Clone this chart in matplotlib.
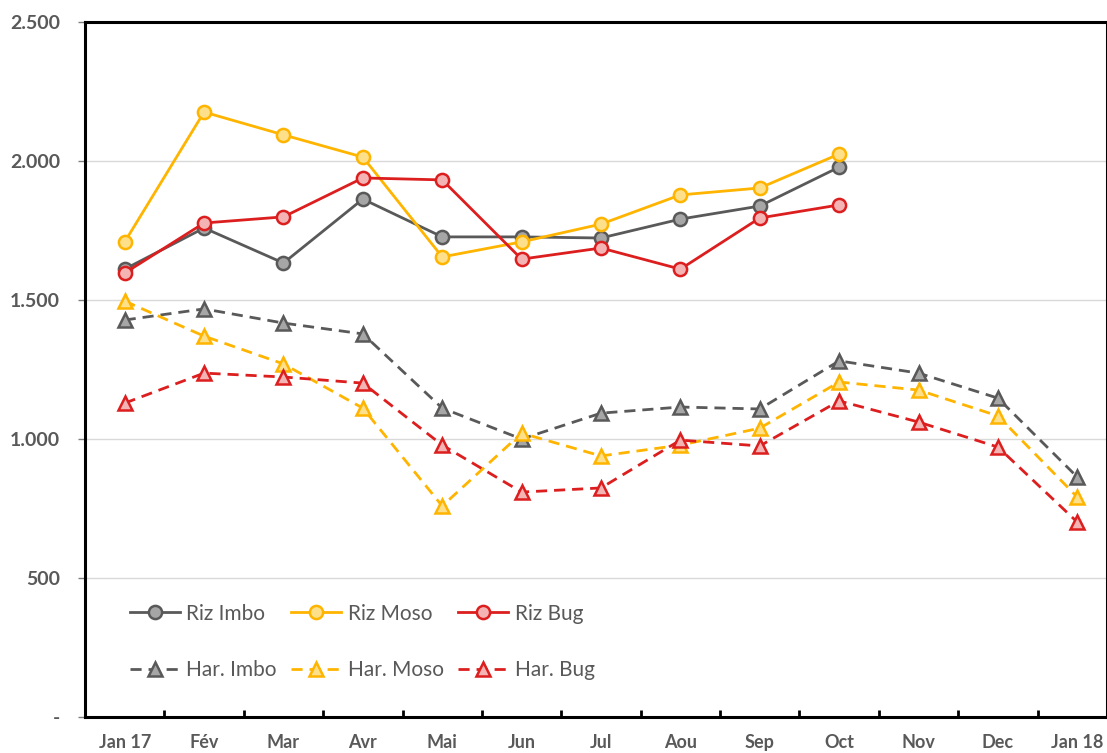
import matplotlib
matplotlib.use("Agg")
import matplotlib.pyplot as plt
from matplotlib.ticker import FuncFormatter, FixedLocator

months = ["Jan 17", "Fév", "Mar", "Avr", "Mai", "Jun", "Jul", "Aou",
          "Sep", "Oct", "Nov", "Dec", "Jan 18"]

riz_imbo = [1611, 1759, 1633, 1863, 1727, 1727, 1723, 1791, 1838, 1978]
riz_moso = [1709, 2176, 2094, 2014, 1655, 1709, 1773, 1878, 1903, 2025]
riz_bug = [1597, 1777, 1799, 1939, 1932, 1647, 1687, 1611, 1795, 1842]

har_imbo = [1428, 1468, 1417, 1378, 1111, 1000, 1093, 1115, 1108, 1281, 1237, 1147, 863]
har_moso = [1496, 1370, 1270, 1111, 759, 1021, 939, 978, 1039, 1205, 1176, 1083, 791]
har_bug = [1129, 1237, 1223, 1201, 978, 809, 824, 996, 975, 1137, 1061, 971, 701]

plt.rcParams['font.family'] = ['Lato', 'DejaVu Sans']

fig = plt.figure(figsize=(11.07, 7.53), dpi=100)
ax = fig.add_axes([85 / 1107, 36 / 753, 1 - 85 / 1107, 695 / 753])

gray, gray_f = "#595959", "#A6A6A6"
yellow, yellow_f = "#FFB400", "#FFE08A"
red, red_f = "#DC1E1E", "#F4B4B4"

x_riz = range(len(riz_imbo))
x_har = range(len(har_imbo))

common = dict(linewidth=2.0, markersize=9.5, markeredgewidth=1.8)
l1, = ax.plot(x_riz, riz_imbo, "-o", color=gray, mfc=gray_f, label="Riz Imbo", **common)
l2, = ax.plot(x_riz, riz_moso, "-o", color=yellow, mfc=yellow_f, label="Riz Moso", **common)
l3, = ax.plot(x_riz, riz_bug, "-o", color=red, mfc=red_f, label="Riz Bug", **common)
h1, = ax.plot(x_har, har_imbo, "--^", color=gray, mfc=gray_f, label="Har. Imbo", **common)
h2, = ax.plot(x_har, har_moso, "--^", color=yellow, mfc=yellow_f, label="Har. Moso", **common)
h3, = ax.plot(x_har, har_bug, "--^", color=red, mfc=red_f, label="Har. Bug", **common)
for h in (h1, h2, h3):
    h.set_dashes([4, 2.5])

ax.set_ylim(0, 2500)
ax.set_xlim(-0.5, 12.5 - 10 / 79.4)
ax.set_yticks([0, 500, 1000, 1500, 2000, 2500])
ax.yaxis.set_major_formatter(FuncFormatter(
    lambda v, p: "-" if v == 0 else f"{int(v):,}".replace(",", ".")))
ax.grid(axis="y", color="#D9D9D9", linewidth=1)
ax.set_axisbelow(True)

ax.set_xticks(range(len(months)))
ax.set_xticklabels(months)
ax.xaxis.set_minor_locator(FixedLocator([i + 0.5 for i in range(len(months) - 1)]))
ax.tick_params(axis="x", which="major", length=0, pad=12)
ax.tick_params(axis="x", which="minor", direction="in", length=5, width=2)
ax.tick_params(axis="y", length=5, width=1, color="#7F7F7F", pad=13)
for lab in ax.get_xticklabels():
    lab.set_fontsize(13)
for lab in ax.get_yticklabels():
    lab.set_fontsize(14)
for lab in ax.get_xticklabels() + ax.get_yticklabels():
    lab.set_fontweight("bold")
    lab.set_color("#595959")

for s in ax.spines.values():
    s.set_linewidth(2.2)
    s.set_color("black")

ax.legend([l1, h1, l2, h2, l3, h3],
          ["Riz Imbo", "Har. Imbo", "Riz Moso", "Har. Moso", "Riz Bug", "Har. Bug"],
          ncol=3, loc="lower left", bbox_to_anchor=(0.034, 0.038), frameon=False,
          fontsize=15, labelcolor="#595959", handlelength=2.4,
          handletextpad=0.3, labelspacing=1.75, columnspacing=0.7, borderpad=0)

fig.savefig("out.png", dpi=100)
